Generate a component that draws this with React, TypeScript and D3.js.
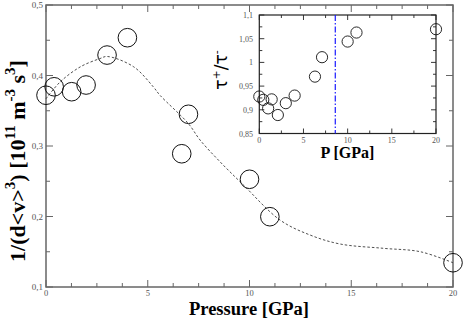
import React from "react";
import * as d3 from "d3";

// Main plot data
const mainP = [0, 0.4, 1.26, 1.97, 3.0, 4.0, 6.67, 7.0, 10.0, 11.0, 20.0];
const mainV = [0.372, 0.384, 0.377, 0.3865, 0.429, 0.4536, 0.289, 0.345, 0.2528, 0.1997, 0.1344];
// Dashed fit curve
const fitP = [0, 0.7, 1.7, 2.65, 3.0, 4.3, 5.27, 5.6, 6.99, 7.57, 8.55, 9.7, 11.5, 12.97, 14.45, 16.57, 18.4, 20];
const fitV = [0.367, 0.391, 0.4125, 0.424, 0.427, 0.4125, 0.384, 0.372, 0.332, 0.3085, 0.2777, 0.2447, 0.195, 0.1738, 0.161, 0.1549, 0.15, 0.1344];
// Inset data
const insetP = [0, 0.45, 1.0, 1.4, 2.1, 3.0, 4.0, 6.3, 7.1, 10.0, 11.0, 20.0];
const insetV = [0.928, 0.921, 0.903, 0.922, 0.889, 0.914, 0.93, 0.97, 1.011, 1.044, 1.063, 1.07];
const insetLineP = 8.6;

const mainXTicks = [0, 5, 10, 15, 20];
const mainYTicks = [0.1, 0.2, 0.3, 0.4, 0.5];
const insetXTicks = [0, 5, 10, 15, 20];
const insetYTicks = [0.85, 0.9, 0.95, 1, 1.05, 1.1];

const fmt = (v: number) => String(+v.toFixed(2)).replace(".", ",");

export default function App() {
  const W = 463, H = 319;
  const x = d3.scaleLinear().domain([0, 20]).range([46, 453]);
  const y = d3.scaleLinear().domain([0.1, 0.5]).range([287, 5]);
  const ix = d3.scaleLinear().domain([0, 20]).range([259.3, 436]);
  const iy = d3.scaleLinear().domain([0.85, 1.1]).range([133.5, 15]);

  const line = d3
    .line<number>()
    .x((_, i) => x(fitP[i]))
    .y((d) => y(d))
    .curve(d3.curveCatmullRom.alpha(0.5));

  const axisCol = "#666";
  const labCol = "#555";

  const mainXMinor = d3.range(0, 20.001, 1.25);
  const mainYMinor = d3.range(0.1, 0.5001, 0.05);
  const insXMinor = d3.range(0, 20.001, 2.5);
  const insYMinor = d3.range(0.85, 1.1001, 0.025);

  const sf = "'Times New Roman'";

  return (
    <svg width={W} height={H} style={{ position: "absolute", left: 0, top: 0, background: "#fff" }}>
      <style>{`.sf { font-family: 'Liberation Serif', 'Times New Roman', serif !important; }`}</style>
      <rect x={0} y={0} width={W} height={H} fill="#fff" />
      {/* main frame */}
      <rect x={x(0)} y={y(0.5)} width={x(20) - x(0)} height={y(0.1) - y(0.5)} fill="none" stroke={axisCol} strokeWidth={1.5} />
      {/* main ticks */}
      {mainXMinor.map((t, i) => {
        const major = Math.abs(t / 5 - Math.round(t / 5)) < 1e-6;
        const len = major ? 7 : 4;
        return (
          <g key={"mx" + i} stroke={axisCol} strokeWidth={1}>
            <line x1={x(t)} x2={x(t)} y1={y(0.1)} y2={y(0.1) - len} />
            <line x1={x(t)} x2={x(t)} y1={y(0.5)} y2={y(0.5) + len} />
          </g>
        );
      })}
      {mainYMinor.map((t, i) => {
        const major = Math.abs(t * 10 - Math.round(t * 10)) < 1e-6;
        const len = major ? 7 : 4;
        return (
          <g key={"my" + i} stroke={axisCol} strokeWidth={1}>
            <line x1={x(0)} x2={x(0) + len} y1={y(t)} y2={y(t)} />
            <line x1={x(20)} x2={x(20) - len} y1={y(t)} y2={y(t)} />
          </g>
        );
      })}
      {mainXTicks.map((t) => (
        <text key={"mxl" + t} className="sf" x={x(t)} y={296} textAnchor="middle" fontFamily={sf} fontSize={8.5} fill={labCol}>
          {fmt(t)}
        </text>
      ))}
      {mainYTicks.map((t) => (
        <text key={"myl" + t} className="sf" x={43} y={y(t) + 3} textAnchor="end" fontFamily={sf} fontSize={9} fill={labCol}>
          {fmt(t)}
        </text>
      ))}
      {/* fit curve */}
      <path d={line(fitV) || ""} fill="none" stroke="#222" strokeWidth={0.8} strokeDasharray="2.5,2" />
      {/* main points */}
      {mainP.map((p, i) => (
        <circle key={"mp" + i} cx={x(p)} cy={y(mainV[i])} r={9.3} fill="none" stroke="#111" strokeWidth={1} />
      ))}
      {/* axis titles */}
      <text className="sf" x={249} y={315} textAnchor="middle" fontFamily={sf} fontWeight="bold" fontSize={18.5}>
        Pressure [GPa]
      </text>
      <text className="sf" transform="translate(25,161) rotate(-90)" textAnchor="middle" fontFamily={sf} fontWeight="bold" fontSize={22}>
        1/(d&lt;v&gt;
        <tspan dy={-10} fontSize={15}>3</tspan>
        <tspan dy={10}>)  [10</tspan>
        <tspan dy={-10} fontSize={15}>11</tspan>
        <tspan dy={10}> m</tspan>
        <tspan dy={-10} fontSize={15}>-3</tspan>
        <tspan dy={10}> s</tspan>
        <tspan dy={-10} fontSize={15}>3</tspan>
        <tspan dy={10}>]</tspan>
      </text>

      {/* inset */}
      <rect x={ix(0)} y={iy(1.1)} width={ix(20) - ix(0)} height={iy(0.85) - iy(1.1)} fill="#fff" stroke="#222" strokeWidth={1.2} />
      {insXMinor.map((t, i) => {
        const major = Math.abs(t / 5 - Math.round(t / 5)) < 1e-6;
        const len = major ? 5 : 3;
        return (
          <g key={"ix" + i} stroke="#222" strokeWidth={0.9}>
            <line x1={ix(t)} x2={ix(t)} y1={iy(0.85)} y2={iy(0.85) - len} />
            <line x1={ix(t)} x2={ix(t)} y1={iy(1.1)} y2={iy(1.1) + len} />
          </g>
        );
      })}
      {insYMinor.map((t, i) => {
        const major = Math.abs(t * 20 - Math.round(t * 20)) < 1e-6;
        const len = major ? 5 : 3;
        return (
          <g key={"iy" + i} stroke="#222" strokeWidth={0.9}>
            <line x1={ix(0)} x2={ix(0) + len} y1={iy(t)} y2={iy(t)} />
            <line x1={ix(20)} x2={ix(20) - len} y1={iy(t)} y2={iy(t)} />
          </g>
        );
      })}
      {insetXTicks.map((t) => (
        <text key={"ixl" + t} className="sf" x={ix(t)} y={143} textAnchor="middle" fontFamily={sf} fontSize={8} fill={labCol}>
          {fmt(t)}
        </text>
      ))}
      {insetYTicks.map((t) => (
        <text key={"iyl" + t} className="sf" x={253} y={iy(t) + 3} textAnchor="end" fontFamily={sf} fontSize={8} fill={labCol}>
          {fmt(t)}
        </text>
      ))}
      <line
        x1={ix(insetLineP)}
        x2={ix(insetLineP)}
        y1={iy(1.1)}
        y2={iy(0.85)}
        stroke="#1a1aff"
        strokeWidth={1.2}
        strokeDasharray="6,2,1.5,2"
      />
      {insetP.map((p, i) => (
        <circle key={"ip" + i} cx={ix(p)} cy={iy(insetV[i])} r={5.6} fill="none" stroke="#111" strokeWidth={0.9} />
      ))}
      <text className="sf" x={347.5} y={158} textAnchor="middle" fontFamily={sf} fontWeight="bold" fontSize={16}>
        P [GPa]
      </text>
      <text transform="translate(227,70) rotate(-90)" textAnchor="middle" fontFamily="'DejaVu Sans'" fontSize={17}>
        τ
        <tspan dy={-7} fontSize={11}>+</tspan>
        <tspan dy={7}>/τ</tspan>
        <tspan dy={-7} fontSize={11}>-</tspan>
      </text>
    </svg>
  );
}
